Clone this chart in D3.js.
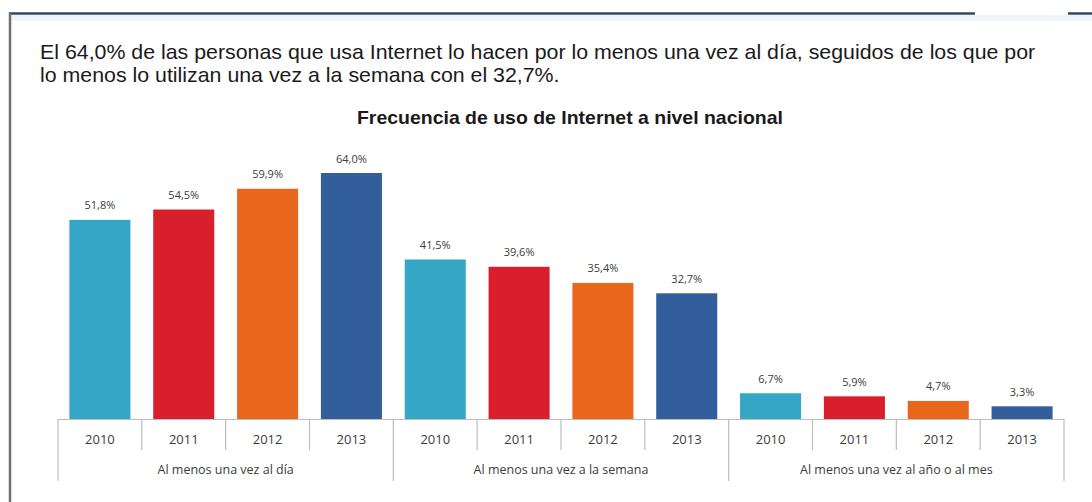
<!DOCTYPE html>
<html>
<head>
<meta charset="utf-8">
<script src="https://cdn.jsdelivr.net/npm/d3@7/dist/d3.min.js"></script>
<style>
  html, body { margin: 0; padding: 0; background: #fff; }
  svg { display: block; }
</style>
</head>
<body>
<svg id="chart" width="1092" height="502"></svg>
<script>
// Frequency of Internet use, national level (percent of users)
const groups = ["Al menos una vez al día", "Al menos una vez a la semana", "Al menos una vez al año o al mes"];
const years = ["2010", "2011", "2012", "2013"];
const diario = [51.8, 54.5, 59.9, 64.0];
const semanal = [41.5, 39.6, 35.4, 32.7];
const anualMensual = [6.7, 5.9, 4.7, 3.3];
const seriesValues = [diario, semanal, anualMensual];
const yearColors = ["#35a6c6", "#d91f2b", "#e8671d", "#325e9c"];

const rows = [];
groups.forEach((g, gi) => {
  years.forEach((y, yi) => {
    rows.push({ key: gi + "-" + y, group: g, gi, year: y, yi, value: seriesValues[gi][yi] });
  });
});

const svg = d3.select("#chart");

// page frame: top rule and left border
svg.append("rect").attr("x", 10).attr("y", 15).attr("width", 1082).attr("height", 6)
  .attr("fill", "#eef6fb");
svg.append("line").attr("x1", 10).attr("x2", 975).attr("y1", 13.5).attr("y2", 13.5)
  .attr("stroke", "#34495e").attr("stroke-width", 2.5);
svg.append("line").attr("x1", 1068).attr("x2", 1092).attr("y1", 13.5).attr("y2", 13.5)
  .attr("stroke", "#34495e").attr("stroke-width", 2.5);
svg.append("line").attr("x1", 10).attr("x2", 10).attr("y1", 12).attr("y2", 502)
  .attr("stroke", "#6f6f6f").attr("stroke-width", 2.5);

// stretch a text element horizontally so it spans the given width from its left edge
function fitWidth(sel, left, width) {
  const w = sel.node().getComputedTextLength();
  sel.attr("transform", `translate(${left},0) scale(${width / w},1) translate(${-left},0)`);
}

// headline text
const headFont = "Liberation Sans, Arial, sans-serif";
const head = svg.append("g")
  .attr("font-family", headFont)
  .attr("font-size", 20).attr("fill", "#1a1a1a");
const line1 = head.append("text").attr("x", 40).attr("y", 59)
  .text("El 64,0% de las personas que usa Internet lo hacen por lo menos una vez al día, seguidos de los que por");
const w1 = line1.node().getComputedTextLength();
const sx = 996 / w1;
line1.attr("transform", `translate(40,0) scale(${sx},1) translate(-40,0)`);
head.append("text").attr("x", 40).attr("y", 82)
  .attr("transform", `translate(40,0) scale(${sx},1) translate(-40,0)`)
  .text("lo menos lo utilizan una vez a la semana con el 32,7%.");

const title = svg.append("text")
  .attr("x", 357).attr("y", 124)
  .attr("font-family", headFont)
  .attr("font-size", 17.5).attr("font-weight", "bold").attr("fill", "#1a1a1a")
  .text("Frecuencia de uso de Internet a nivel nacional");
fitWidth(title, 357, 426);

// scales
const x = d3.scaleBand()
  .domain(rows.map(d => d.key))
  .range([58, 1064])
  .paddingInner(0.272)
  .paddingOuter(0.136);

const y = d3.scaleLinear().domain([0, 64]).range([419, 173]);

// bars
svg.append("g").selectAll("rect").data(rows).join("rect")
  .attr("x", d => x(d.key))
  .attr("y", d => y(d.value))
  .attr("width", x.bandwidth())
  .attr("height", d => y(0) - y(d.value))
  .attr("fill", d => yearColors[d.yi]);

// value labels
const labelFont = "Open Sans, Liberation Sans, sans-serif";
const fmt = v => d3.format(".1f")(v).replace(".", ",") + "%";
svg.append("g").selectAll("text").data(rows).join("text")
  .attr("x", d => x(d.key) + x.bandwidth() / 2)
  .attr("y", d => y(d.value) - 10.5)
  .attr("text-anchor", "middle")
  .attr("font-family", labelFont)
  .attr("font-size", 11).attr("fill", "#3c3c3c")
  .text(d => fmt(d.value));

// category axis: baseline, slot dividers, year and group labels
const axisColor = "#bdbdbd";
const step = x.step();
const x0 = x.range()[0];
const axis = svg.append("g");
axis.append("line").attr("x1", x0).attr("x2", x.range()[1])
  .attr("y1", y(0) + 0.5).attr("y2", y(0) + 0.5)
  .attr("stroke", axisColor).attr("stroke-width", 1.2);
d3.range(rows.length + 1).forEach(i => {
  const xx = x0 + i * step;
  axis.append("line").attr("x1", xx).attr("x2", xx)
    .attr("y1", y(0)).attr("y2", i % years.length === 0 ? 481 : 450)
    .attr("stroke", axisColor).attr("stroke-width", 1.2);
});
axis.selectAll("text.year").data(rows).join("text")
  .attr("class", "year")
  .attr("x", d => x(d.key) + x.bandwidth() / 2)
  .attr("y", 444)
  .attr("text-anchor", "middle")
  .attr("font-family", labelFont)
  .attr("font-size", 13).attr("fill", "#3c3c3c")
  .text(d => d.year);
axis.selectAll("text.group").data(groups).join("text")
  .attr("class", "group")
  .attr("x", (g, gi) => x0 + (gi * years.length + years.length / 2) * step)
  .attr("y", 474)
  .attr("text-anchor", "middle")
  .attr("font-family", labelFont)
  .attr("font-size", 12.5).attr("fill", "#3c3c3c")
  .text(g => g);
</script>
</body>
</html>
